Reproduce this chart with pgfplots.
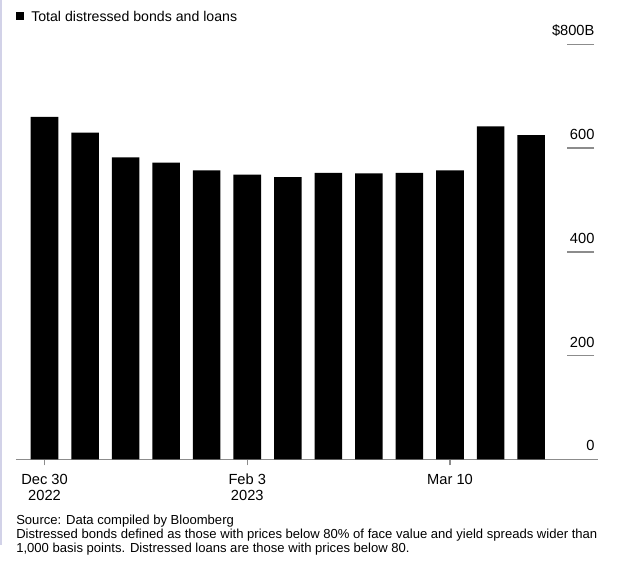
\documentclass[border=0pt]{standalone}
\usepackage{fontspec}
\setmainfont{Liberation Sans}
\usepackage{pgfplots}
\pgfplotsset{compat=1.18}
\definecolor{axgray}{RGB}{140,140,140}
\definecolor{lav}{RGB}{210,210,232}
\pgfplotsset{frame/.style={at={(12pt,-344.475pt)}, anchor=south west, scale only axis,
  width=436.5pt, height=311.25pt,
  xmin=-0.703, xmax=13.65, ymin=0, ymax=800}}
\begin{document}
\begin{tikzpicture}
\begin{scope}[x=0.75pt,y=0.75pt]
\path[use as bounding box] (0,0) rectangle (623,-565);
\draw[lav, line width=1.2pt] (0.8,0) -- (0.8,-545);
% legend
\fill[black] (16,-12) rectangle (24,-20);
\node[anchor=west, inner sep=0pt, font=\fontsize{10.6}{12}\selectfont] at (31,-16.5) {Total distressed bonds and loans};
% source
\node[anchor=north west, inner sep=0pt, align=left, font=\fontsize{9.8}{10.5}\selectfont] at (16,-515) {Source: Data compiled by Bloomberg\\Distressed bonds defined as those with prices below 80\% of face value and yield spreads wider than\\1,000 basis points. Distressed loans are those with prices below 80.};
\end{scope}
% y tick lines only
\begin{axis}[frame,
  hide x axis, axis y line*=right,
  y axis line style={draw=none},
  ytick={200,400,600,800},
  yticklabels={},
  tick align=inside, major tick length=20.25pt,
  ytick style={draw=axgray, line width=1.1pt, xshift=-3pt}]
\end{axis}
% y tick labels only
\begin{axis}[frame,
  hide x axis, axis y line*=right,
  y axis line style={draw=none},
  ytick={0,200,400,600,800},
  yticklabels={0,200,400,600,\$800B},
  major tick length=0pt, ytick style={draw=none},
  yticklabel style={anchor=south east, inner sep=0pt, xshift=-2.5pt, yshift=6pt, font=\fontsize{11}{12}\selectfont}]
\end{axis}
% bars
\begin{axis}[frame,
  axis x line*=bottom, axis y line=none,
  x axis line style={-, draw=axgray, line width=1.1pt},
  ybar, bar width=0.68,
  xtick={0,5,10},
  xticklabels={{Dec 30\\2022},{Feb 3\\2023},{Mar 10}},
  xticklabel style={align=center, font=\fontsize{11}{12}\selectfont, inner sep=0pt, yshift=-6.5pt},
  tick align=outside, major tick length=4.5pt,
  xtick style={draw=axgray, line width=1pt},
  clip=false]
\addplot[fill=black, draw=none] coordinates {(0,660) (1,630) (2,582) (3,572) (4,557) (5,549) (6,544) (7,552) (8,551) (9,552) (10,557) (11,642) (12,625)};
\end{axis}
\end{tikzpicture}
\end{document}
